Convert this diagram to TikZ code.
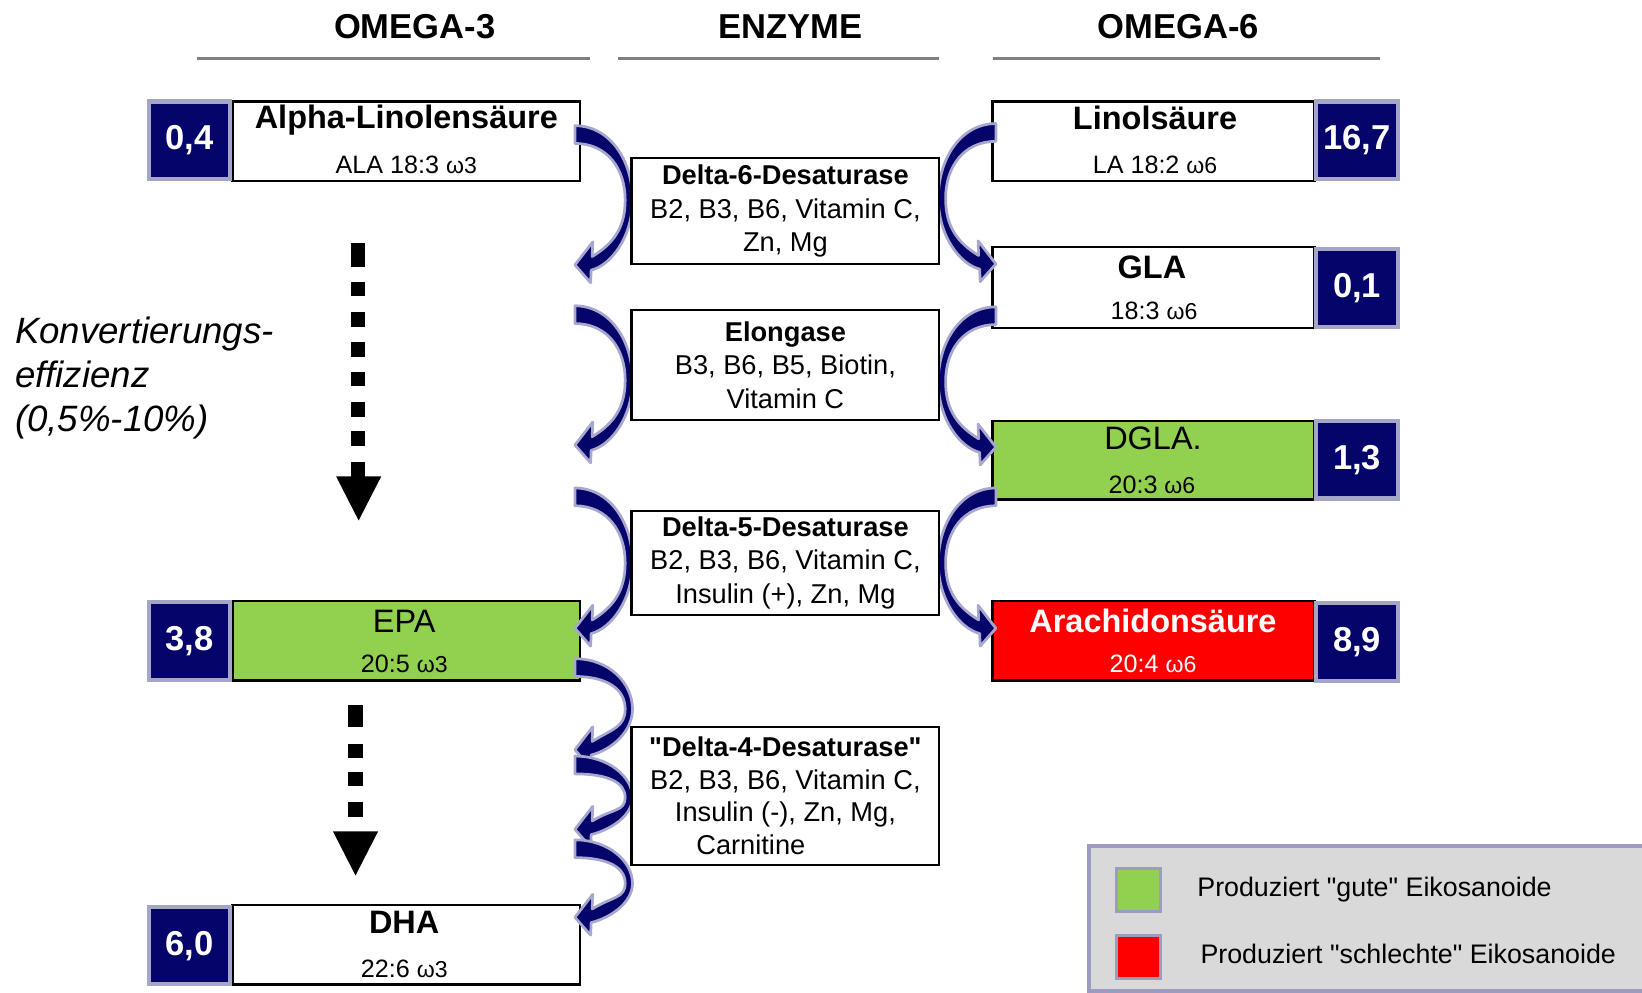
\documentclass[tikz,border=0pt]{standalone}
\usepackage{fontspec}
\setmainfont{Liberation Sans}[Ligatures=TeXOff]
\usetikzlibrary{arrows.meta}
\definecolor{navy}{HTML}{04046A}
\definecolor{halo}{HTML}{A8A8CE}
\definecolor{numedge}{HTML}{A5A5C8}
\definecolor{good}{HTML}{92D050}
\definecolor{bad}{HTML}{FF0000}
\definecolor{legfill}{HTML}{D9D9D9}
\definecolor{legedge}{HTML}{9C9CC0}
\definecolor{rulegray}{HTML}{808080}
\newcommand\omg[1]{{\fontsize{11}{12}\selectfont ω#1}}
\tikzset{
 head/.style={font=\fontsize{16.5}{19}\selectfont\bfseries, inner sep=0pt},
 rulel/.style={draw=rulegray, line width=1.6pt},
 mol/.style={draw=black, line width=1.2pt, minimum height=38pt, inner sep=0pt},
 num/.style={fill=navy, draw=numedge, line width=2pt, minimum width=39pt, minimum height=37pt, inner sep=0pt, text=white, font=\fontsize{16.5}{19}\selectfont\bfseries},
 ttl/.style={font=\fontsize{15.5}{18}\selectfont\bfseries, inner sep=0pt},
 ttlr/.style={font=\fontsize{15.5}{18}\selectfont, inner sep=0pt},
 subl/.style={font=\fontsize{12}{14}\selectfont, inner sep=0pt},
 enz/.style={draw=black, line width=1pt, fill=white, minimum width=147pt, align=center, inner sep=0pt, font=\fontsize{13}{16}\selectfont},
 arrfill/.style={fill=navy, draw=halo, line width=1.3pt, line join=round},
 konv/.style={font=\fontsize{17.5}{21}\selectfont\itshape, align=left, inner sep=0pt},
 leg/.style={font=\fontsize{12.8}{15}\selectfont, inner sep=0pt, anchor=west},
 legsq/.style={draw=legedge, line width=1.5pt, minimum width=21pt, minimum height=20.5pt, inner sep=0pt},
}
% curved block arrow: #1 = 1 (bulging right) or -1 (bulging left), #2 = start coordinate, #3 = height
\newcommand\curlarrow[3]{%
\begin{scope}[shift={(#2)}, xscale=#1]
 \filldraw[arrfill] (-1,-9) .. controls (32,-9) and (54,{0.19*#3}) .. (54,{#3/2})
   .. controls (54,{0.78*#3}) and (34,{#3}) .. (14.5,{#3+5})
   -- (14,{#3+17}) -- (-1,#3) -- (16,{#3-22}) -- (15.5,{#3-8})
   .. controls (35,{#3-20}) and (47,{0.72*#3}) .. (47,{#3/2})
   .. controls (47,{0.26*#3}) and (30,8) .. (-1,8) -- cycle;
\end{scope}}
\begin{document}
\begin{tikzpicture}[x=0.5pt,y=-0.5pt]
\useasboundingbox (0,0) rectangle (1568,948);
% headers
\node[head] (h3) at (396,25) {OMEGA-3};
\node[head] (hE) at (755,25) {ENZYME};
\node[head] (h6) at (1125,25) {OMEGA-6};
\draw[rulel] (188,56) -- (563,56);
\draw[rulel] (590,56) -- (897,56);
\draw[rulel] (948,56) -- (1318,56);

% omega-3 column
\node[mol, minimum width=166pt] (ala) at (388,135) {};
\node[num] (alaN) at (181,134) {0,4};
\node[ttl] (alaT) at (388,115) {Alpha-Linolensäure};
\node[subl] (alaS) at (388,157) {ALA 18:3 \omg3};

\node[mol, minimum width=166pt, fill=good] (epa) at (388,612) {};
\node[num] (epaN) at (181,612) {3,8};
\node[ttlr] (epaT) at (386,593) {EPA};
\node[subl] (epaS) at (386,634) {20:5 \omg3};

\node[mol, minimum width=166pt] (dha) at (388,902) {};
\node[num] (dhaN) at (181,903) {6,0};
\node[ttl] (dhaT) at (386,881) {DHA};
\node[subl] (dhaS) at (386,925) {22:6 \omg3};

% omega-6 column
\node[mol, minimum width=153.5pt] (la) at (1101.5,135) {};
\node[num] (laN) at (1296,134) {16,7};
\node[ttl] (laT) at (1103,113) {Linolsäure};
\node[subl] (laS) at (1103,157) {LA 18:2 \omg6};

\node[mol, minimum width=153.5pt, minimum height=38.5pt] (gla) at (1101.5,274.5) {};
\node[num] (glaN) at (1296,275) {0,1};
\node[ttl] (glaT) at (1100,255) {GLA};
\node[subl] (glaS) at (1102,297) {18:3 \omg6};

\node[mol, minimum width=153.5pt, minimum height=37.5pt, fill=good] (dgla) at (1101.5,439.5) {};
\node[num] (dglaN) at (1296,439) {1,3};
\node[ttlr] (dglaT) at (1101,419) {DGLA.};
\node[subl] (dglaS) at (1100,463) {20:3 \omg6};

\node[mol, minimum width=153.5pt, fill=bad] (ara) at (1101.5,612) {};
\node[num] (araN) at (1296,613) {8,9};
\node[ttl, text=white] (araT) at (1101,593) {Arachidonsäure};
\node[subl, text=white] (araS) at (1101,634) {20:4 \omg6};

% curved arrows, omega-3 side
\coordinate (l1s) at (550,129);
\coordinate (l2s) at (550,301);
\coordinate (l3s) at (550,475);
\coordinate (l4s) at (550,638);
\coordinate (l5s) at (550,731);
\coordinate (l6s) at (550,811);
\curlarrow{1}{l1s}{124}
\curlarrow{1}{l2s}{124}
\curlarrow{1}{l3s}{125}
\curlarrow{1}{l4s}{78}
\curlarrow{1}{l5s}{61}
\curlarrow{1}{l6s}{65}
% curved arrows, omega-6 side
\coordinate (r1s) at (950,127);
\coordinate (r2s) at (950,302);
\coordinate (r3s) at (950,475);
\curlarrow{-1}{r1s}{125}
\curlarrow{-1}{r2s}{125}
\curlarrow{-1}{r3s}{125}

% enzyme boxes
\node[enz, minimum height=50.5pt] (d6) at (750,201.5) {\textbf{Delta-6-Desaturase}\\B2, B3, B6, Vitamin C,\\Zn, Mg};
\node[enz, minimum height=52.5pt] (elo) at (750,348.5) {\textbf{Elongase}\\B3, B6, B5, Biotin,\\Vitamin C};
\node[enz, minimum height=49.5pt] (d5) at (750,537.5) {\textbf{Delta-5-Desaturase}\\B2, B3, B6, Vitamin C,\\Insulin (+), Zn, Mg};
\node[enz, minimum height=66pt, font=\fontsize{13}{15.5}\selectfont] (d4) at (750,760) {\textbf{"Delta-4-Desaturase"}\\B2, B3, B6, Vitamin C,\\Insulin (-), Zn, Mg,\\Carnitine\hspace*{33pt}};

% conversion efficiency
\node[konv, anchor=north west] (konv) at (14,302) {Konvertierungs-\\effizienz\\(0,5\%-10\%)};

% dotted arrow ALA -> EPA
\fill (335,232) rectangle (349,255);
\foreach \yy in {269,298,327,355,384,412} {\fill (335,\yy) rectangle (349,\yy+14);}
\fill (335,441) rectangle (349,456);
\fill (321,455) -- (364,455) -- (342.5,497) -- cycle;
% dotted arrow EPA -> DHA
\fill (332,673) rectangle (347,694);
\foreach \yy in {710,737,766} {\fill (332,\yy) rectangle (347,\yy+14);}
\fill (318,794) -- (361,794) -- (339.5,836) -- cycle;

% legend
\fill[legfill] (1040,808) rectangle (1568,946);
\draw[legedge, line width=2pt] (1568,808) -- (1040,808) -- (1040,946) -- (1568,946);
\node[legsq, fill=good] (lg) at (1087.5,850) {};
\node[legsq, fill=bad] (lb) at (1087.5,914) {};
\node[leg] (lgt) at (1143,849) {Produziert "gute" Eikosanoide};
\node[leg] (lbt) at (1146,911) {Produziert "schlechte" Eikosanoide};
\end{tikzpicture}
\end{document}
